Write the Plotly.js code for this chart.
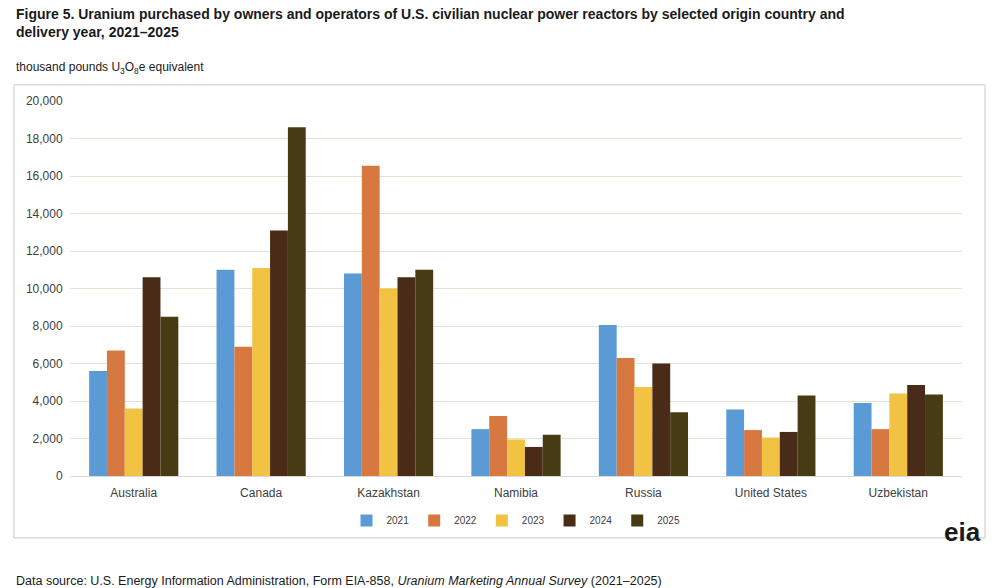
<!DOCTYPE html>
<html>
<head>
<meta charset="utf-8">
<script src="https://cdn.plot.ly/plotly-3.0.1.min.js"></script>
<style>body{margin:0;background:#fff}#chart{width:1000px;height:588px}</style>
</head>
<body>
<div id="chart"></div>
<script>
const countries = ['Australia', 'Canada', 'Kazakhstan', 'Namibia', 'Russia', 'United States', 'Uzbekistan'];
const years = ['2021', '2022', '2023', '2024', '2025'];
const v2021 = [5600, 11000, 10800, 2500, 8050, 3550, 3900];
const v2022 = [6700, 6900, 16550, 3200, 6300, 2450, 2500];
const v2023 = [3600, 11100, 10000, 1950, 4750, 2050, 4400];
const v2024 = [10600, 13100, 10600, 1550, 6000, 2350, 4850];
const v2025 = [8500, 18600, 11000, 2200, 3400, 4300, 4350];
const colors = ['#5B9BD5', '#D6783F', '#F2C343', '#4A2B17', '#463B12'];

const series = [v2021, v2022, v2023, v2024, v2025];
const traces = series.map((vals, i) => ({
  x: countries,
  y: vals,
  name: years[i],
  type: 'bar',
  marker: { color: colors[i] },
  hoverinfo: 'y',
}));

const font = 'Liberation Sans, Arial, sans-serif';
Plotly.newPlot('chart', traces, {
  width: 1000,
  height: 588,
  margin: { l: 70, r: 38, t: 101, b: 112 },
  paper_bgcolor: '#fff',
  plot_bgcolor: '#fff',
  font: { family: font, size: 12, color: '#404040' },
  bargap: 0.3,
  bargroupgap: 0,
  showlegend: true,
  legend: {
    orientation: 'h', x: 0.5, xanchor: 'center', y: -0.08, yanchor: 'top',
    font: { size: 10, color: '#404040' }, itemwidth: 30,
  },
  xaxis: { showline: true, linecolor: '#d9d9d9', ticks: 'outside', ticklen: 6, tickcolor: 'rgba(0,0,0,0)', tickfont: { size: 12 } },
  yaxis: {
    range: [0, 20000], dtick: 2000, tickformat: ',d',
    gridcolor: '#e3e3d0', zeroline: false, ticks: 'outside', ticklen: 4, tickcolor: 'rgba(0,0,0,0)', tickfont: { size: 12 },
  },
  shapes: [{
    type: 'rect', xref: 'paper', yref: 'paper',
    x0: -0.0628, x1: 1.0258, y0: -0.165, y1: 1.043,
    line: { color: '#c8c8c8', width: 1 },
  }],
  annotations: [
    {
      xref: 'paper', yref: 'paper', x: -0.0628, y: 1.26, xanchor: 'left', yanchor: 'top',
      align: 'left', showarrow: false,
      text: '<b>Figure 5. Uranium purchased by owners and operators of U.S. civilian nuclear power reactors by selected origin country and<br>delivery year, 2021–2025</b>',
      font: { size: 14, color: '#1a1a1a' },
    },
    {
      xref: 'paper', yref: 'paper', x: -0.0628, y: 1.115, xanchor: 'left', yanchor: 'top',
      showarrow: false, text: 'thousand pounds U<sub>3</sub>O<sub>8</sub>e equivalent',
      font: { size: 12, color: '#1a1a1a' },
    },
    {
      xref: 'paper', yref: 'paper', x: -0.0628, y: -0.255, xanchor: 'left', yanchor: 'top',
      showarrow: false,
      text: 'Data source: U.S. Energy Information Administration, Form EIA-858, <i>Uranium Marketing Annual Survey</i> (2021–2025)',
      font: { size: 12.5, color: '#1a1a1a' },
    },
    {
      xref: 'paper', yref: 'paper', x: 1.0, y: -0.105, xanchor: 'center', yanchor: 'top',
      showarrow: false, text: '<b>eia</b>', font: { size: 26, color: '#1a1a1a' },
    },
  ],
}, { displayModeBar: false });
</script>
</body>
</html>
